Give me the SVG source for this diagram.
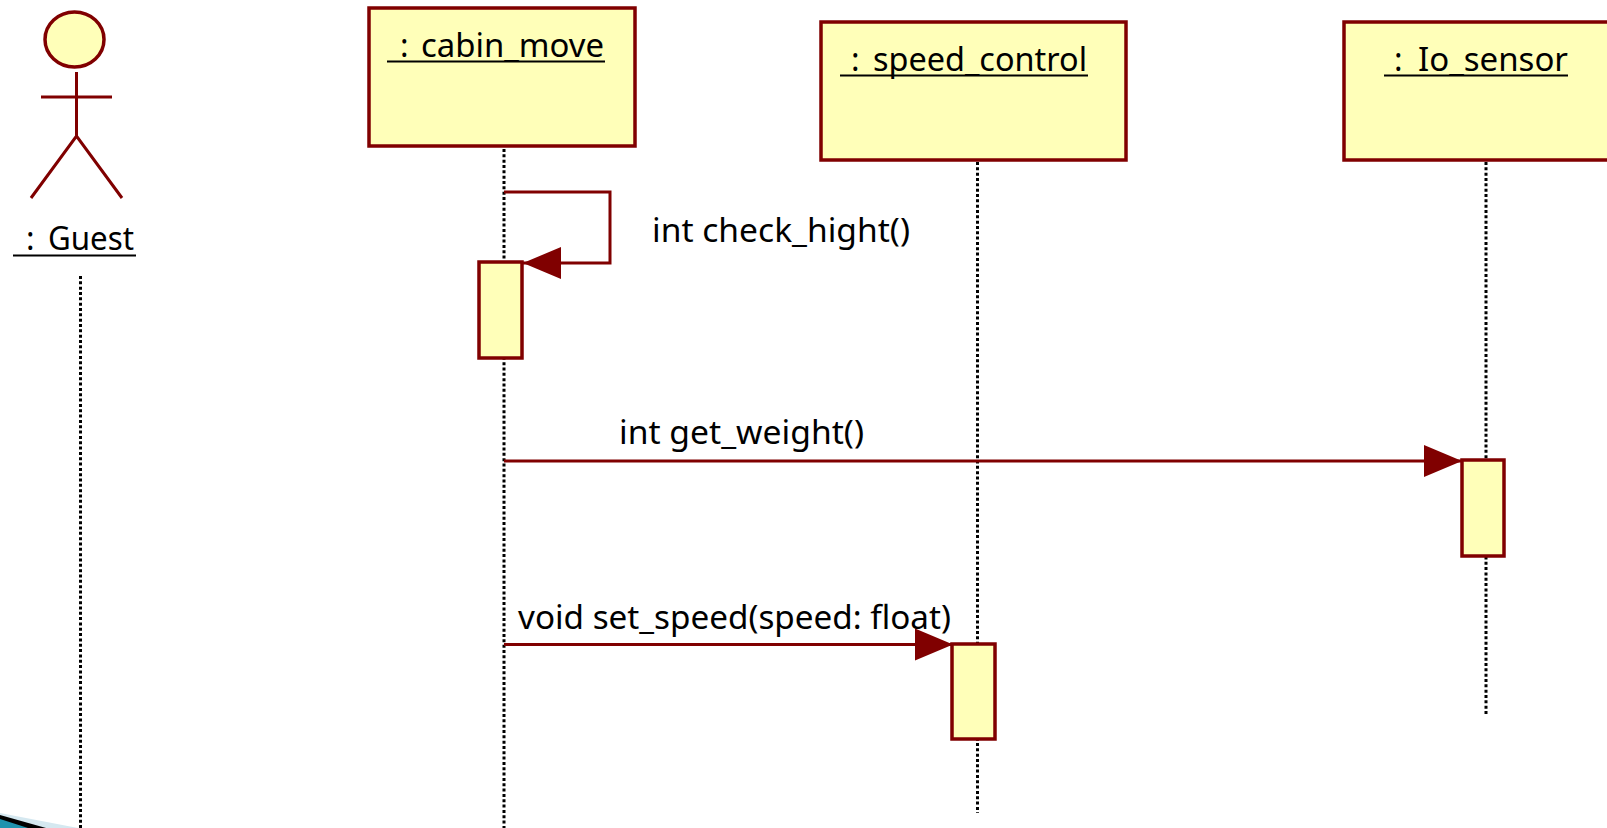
<svg xmlns="http://www.w3.org/2000/svg" width="1607" height="828" viewBox="0 0 1607 828">
<style>
.n{fill:#ffffb9;stroke:#800000;stroke-width:3.500}
.c{fill:none;stroke:#800000;stroke-width:3}
.l{fill:none;stroke:#000;stroke-width:3;stroke-dasharray:3 2.33}
.u{stroke:#000;stroke-width:2;fill:none}
text{font-family:"Noto Sans","Open Sans","Liberation Sans",sans-serif;font-size:32px;fill:#000;font-weight:400}
</style>
<defs><marker id="a" markerUnits="userSpaceOnUse" markerWidth="39" markerHeight="32" refX="38" refY="16" orient="auto"><path d="M0 0L38 16L0 32Z" fill="#800000"/></marker></defs>
<rect width="1607" height="828" fill="#fff"/>
<g id="corner"><path d="M0 813L78 828H0Z" fill="#d5e8f0"/><path d="M0 815L46 828H0Z" fill="#000"/><path d="M0 819L28 828H0Z" fill="#1f93ae"/></g>
<g id="lifelines">
<path class="l" d="M80.500 276V828"/><path class="l" d="M504 149V828"/><path class="l" d="M977.500 162V813"/><path class="l" d="M1486 162V716"/>
</g>
<g id="guest">
<ellipse class="n" cx="74.500" cy="39.500" rx="29.500" ry="27.500"/>
<path class="c" d="M76.500 72V136M41 97H112M31 198L76.500 136L122 198"/>
<text x="26" y="250">:</text><text x="48" y="250" textLength="86" lengthAdjust="spacingAndGlyphs">Guest</text><path class="u" d="M13 255.500H136"/>
</g>
<g id="cabin_move">
<rect class="n" x="369" y="8" width="266" height="138"/>
<text x="400" y="57">:</text><text x="421" y="57" textLength="183" lengthAdjust="spacingAndGlyphs">cabin_move</text><path class="u" d="M387 61.500H605"/>
</g>
<g id="speed_control">
<rect class="n" x="821" y="22" width="305" height="138"/>
<text x="851" y="71">:</text><text x="873" y="71" textLength="214" lengthAdjust="spacingAndGlyphs">speed_control</text><path class="u" d="M840 75.500H1088"/>
</g>
<g id="lo_sensor">
<rect class="n" x="1344" y="22" width="266" height="138"/>
<text x="1394" y="71">:</text><text x="1418" y="71" textLength="150" lengthAdjust="spacingAndGlyphs">Io_sensor</text><path class="u" d="M1384 75.500H1568"/>
</g>
<g id="activations">
<rect class="n" x="479" y="262" width="43" height="96"/>
<rect class="n" x="1462" y="460" width="42" height="96"/>
<rect class="n" x="952" y="644" width="43" height="95"/>
</g>
<g id="connectors">
<path class="c" d="M504 192H610V263H523" marker-end="url(#a)"/>
<path class="c" d="M504 461H1462" marker-end="url(#a)"/>
<path class="c" d="M504 644.500H953" marker-end="url(#a)"/>
</g>
<g id="labels">
<text x="652" y="242" textLength="258" lengthAdjust="spacingAndGlyphs">int check_hight()</text>
<text x="619" y="444" textLength="245" lengthAdjust="spacingAndGlyphs">int get_weight()</text>
<text x="518" y="629" textLength="433" lengthAdjust="spacingAndGlyphs">void set_speed(speed: float)</text>
</g>
</svg>
